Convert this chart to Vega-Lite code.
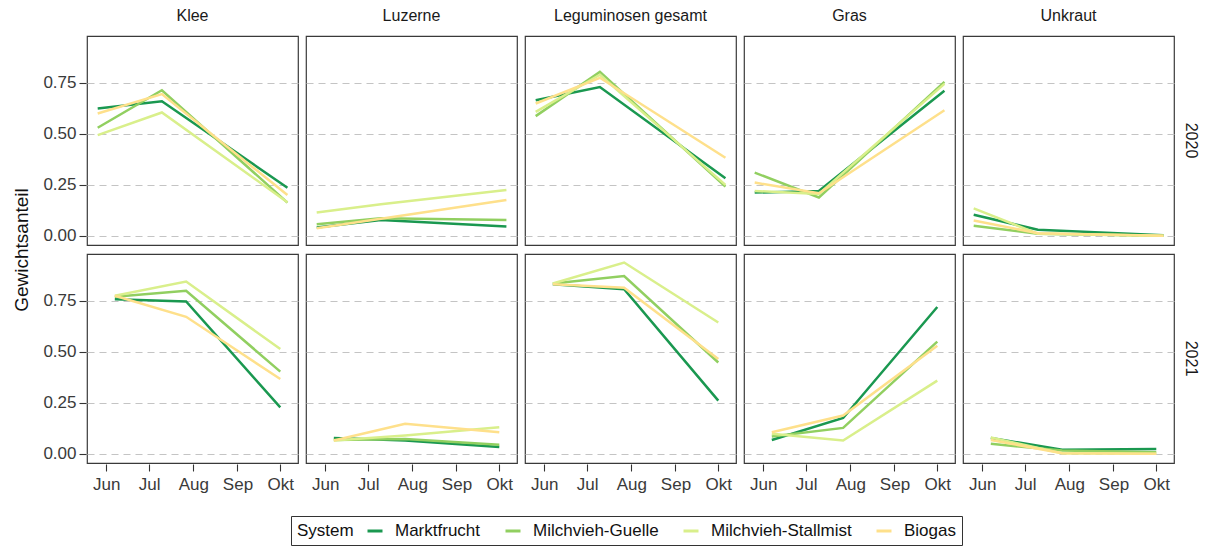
{
  "$schema": "https://vega.github.io/schema/vega-lite/v6.json",
  "padding": {"left": 12, "top": 8, "right": 4, "bottom": 2},
  "background": "white",
  "data": {"values": [
    {"Jahr": "2020", "Kategorie": "Klee", "System": "Marktfrucht", "Datum": "2020-05-26", "Anteil": 0.625},
    {"Jahr": "2020", "Kategorie": "Klee", "System": "Marktfrucht", "Datum": "2020-07-10", "Anteil": 0.66},
    {"Jahr": "2020", "Kategorie": "Klee", "System": "Marktfrucht", "Datum": "2020-10-06", "Anteil": 0.236},
    {"Jahr": "2020", "Kategorie": "Klee", "System": "Milchvieh-Guelle", "Datum": "2020-05-26", "Anteil": 0.53},
    {"Jahr": "2020", "Kategorie": "Klee", "System": "Milchvieh-Guelle", "Datum": "2020-07-10", "Anteil": 0.714},
    {"Jahr": "2020", "Kategorie": "Klee", "System": "Milchvieh-Guelle", "Datum": "2020-10-06", "Anteil": 0.163},
    {"Jahr": "2020", "Kategorie": "Klee", "System": "Milchvieh-Stallmist", "Datum": "2020-05-26", "Anteil": 0.494},
    {"Jahr": "2020", "Kategorie": "Klee", "System": "Milchvieh-Stallmist", "Datum": "2020-07-10", "Anteil": 0.605},
    {"Jahr": "2020", "Kategorie": "Klee", "System": "Milchvieh-Stallmist", "Datum": "2020-10-06", "Anteil": 0.165},
    {"Jahr": "2020", "Kategorie": "Klee", "System": "Biogas", "Datum": "2020-05-26", "Anteil": 0.60},
    {"Jahr": "2020", "Kategorie": "Klee", "System": "Biogas", "Datum": "2020-07-10", "Anteil": 0.695},
    {"Jahr": "2020", "Kategorie": "Klee", "System": "Biogas", "Datum": "2020-10-06", "Anteil": 0.20},

    {"Jahr": "2020", "Kategorie": "Luzerne", "System": "Marktfrucht", "Datum": "2020-05-26", "Anteil": 0.041},
    {"Jahr": "2020", "Kategorie": "Luzerne", "System": "Marktfrucht", "Datum": "2020-07-10", "Anteil": 0.078},
    {"Jahr": "2020", "Kategorie": "Luzerne", "System": "Marktfrucht", "Datum": "2020-10-06", "Anteil": 0.046},
    {"Jahr": "2020", "Kategorie": "Luzerne", "System": "Milchvieh-Guelle", "Datum": "2020-05-26", "Anteil": 0.057},
    {"Jahr": "2020", "Kategorie": "Luzerne", "System": "Milchvieh-Guelle", "Datum": "2020-07-10", "Anteil": 0.086},
    {"Jahr": "2020", "Kategorie": "Luzerne", "System": "Milchvieh-Guelle", "Datum": "2020-10-06", "Anteil": 0.078},
    {"Jahr": "2020", "Kategorie": "Luzerne", "System": "Milchvieh-Stallmist", "Datum": "2020-05-26", "Anteil": 0.114},
    {"Jahr": "2020", "Kategorie": "Luzerne", "System": "Milchvieh-Stallmist", "Datum": "2020-07-10", "Anteil": 0.155},
    {"Jahr": "2020", "Kategorie": "Luzerne", "System": "Milchvieh-Stallmist", "Datum": "2020-10-06", "Anteil": 0.225},
    {"Jahr": "2020", "Kategorie": "Luzerne", "System": "Biogas", "Datum": "2020-05-26", "Anteil": 0.037},
    {"Jahr": "2020", "Kategorie": "Luzerne", "System": "Biogas", "Datum": "2020-07-10", "Anteil": 0.084},
    {"Jahr": "2020", "Kategorie": "Luzerne", "System": "Biogas", "Datum": "2020-10-06", "Anteil": 0.176},

    {"Jahr": "2020", "Kategorie": "Leguminosen gesamt", "System": "Marktfrucht", "Datum": "2020-05-26", "Anteil": 0.665},
    {"Jahr": "2020", "Kategorie": "Leguminosen gesamt", "System": "Marktfrucht", "Datum": "2020-07-10", "Anteil": 0.73},
    {"Jahr": "2020", "Kategorie": "Leguminosen gesamt", "System": "Marktfrucht", "Datum": "2020-10-06", "Anteil": 0.282},
    {"Jahr": "2020", "Kategorie": "Leguminosen gesamt", "System": "Milchvieh-Guelle", "Datum": "2020-05-26", "Anteil": 0.587},
    {"Jahr": "2020", "Kategorie": "Leguminosen gesamt", "System": "Milchvieh-Guelle", "Datum": "2020-07-10", "Anteil": 0.804},
    {"Jahr": "2020", "Kategorie": "Leguminosen gesamt", "System": "Milchvieh-Guelle", "Datum": "2020-10-06", "Anteil": 0.241},
    {"Jahr": "2020", "Kategorie": "Leguminosen gesamt", "System": "Milchvieh-Stallmist", "Datum": "2020-05-26", "Anteil": 0.608},
    {"Jahr": "2020", "Kategorie": "Leguminosen gesamt", "System": "Milchvieh-Stallmist", "Datum": "2020-07-10", "Anteil": 0.79},
    {"Jahr": "2020", "Kategorie": "Leguminosen gesamt", "System": "Milchvieh-Stallmist", "Datum": "2020-10-06", "Anteil": 0.25},
    {"Jahr": "2020", "Kategorie": "Leguminosen gesamt", "System": "Biogas", "Datum": "2020-05-26", "Anteil": 0.649},
    {"Jahr": "2020", "Kategorie": "Leguminosen gesamt", "System": "Biogas", "Datum": "2020-07-10", "Anteil": 0.775},
    {"Jahr": "2020", "Kategorie": "Leguminosen gesamt", "System": "Biogas", "Datum": "2020-10-06", "Anteil": 0.383},

    {"Jahr": "2020", "Kategorie": "Gras", "System": "Marktfrucht", "Datum": "2020-05-26", "Anteil": 0.212},
    {"Jahr": "2020", "Kategorie": "Gras", "System": "Marktfrucht", "Datum": "2020-07-10", "Anteil": 0.22},
    {"Jahr": "2020", "Kategorie": "Gras", "System": "Marktfrucht", "Datum": "2020-10-06", "Anteil": 0.711},
    {"Jahr": "2020", "Kategorie": "Gras", "System": "Milchvieh-Guelle", "Datum": "2020-05-26", "Anteil": 0.31},
    {"Jahr": "2020", "Kategorie": "Gras", "System": "Milchvieh-Guelle", "Datum": "2020-07-10", "Anteil": 0.188},
    {"Jahr": "2020", "Kategorie": "Gras", "System": "Milchvieh-Guelle", "Datum": "2020-10-06", "Anteil": 0.755},
    {"Jahr": "2020", "Kategorie": "Gras", "System": "Milchvieh-Stallmist", "Datum": "2020-05-26", "Anteil": 0.22},
    {"Jahr": "2020", "Kategorie": "Gras", "System": "Milchvieh-Stallmist", "Datum": "2020-07-10", "Anteil": 0.205},
    {"Jahr": "2020", "Kategorie": "Gras", "System": "Milchvieh-Stallmist", "Datum": "2020-10-06", "Anteil": 0.745},
    {"Jahr": "2020", "Kategorie": "Gras", "System": "Biogas", "Datum": "2020-05-26", "Anteil": 0.261},
    {"Jahr": "2020", "Kategorie": "Gras", "System": "Biogas", "Datum": "2020-07-10", "Anteil": 0.209},
    {"Jahr": "2020", "Kategorie": "Gras", "System": "Biogas", "Datum": "2020-10-06", "Anteil": 0.616},

    {"Jahr": "2020", "Kategorie": "Unkraut", "System": "Marktfrucht", "Datum": "2020-05-26", "Anteil": 0.103},
    {"Jahr": "2020", "Kategorie": "Unkraut", "System": "Marktfrucht", "Datum": "2020-07-10", "Anteil": 0.03},
    {"Jahr": "2020", "Kategorie": "Unkraut", "System": "Marktfrucht", "Datum": "2020-10-06", "Anteil": 0.003},
    {"Jahr": "2020", "Kategorie": "Unkraut", "System": "Milchvieh-Guelle", "Datum": "2020-05-26", "Anteil": 0.049},
    {"Jahr": "2020", "Kategorie": "Unkraut", "System": "Milchvieh-Guelle", "Datum": "2020-07-10", "Anteil": 0.01},
    {"Jahr": "2020", "Kategorie": "Unkraut", "System": "Milchvieh-Guelle", "Datum": "2020-10-06", "Anteil": 0.0},
    {"Jahr": "2020", "Kategorie": "Unkraut", "System": "Milchvieh-Stallmist", "Datum": "2020-05-26", "Anteil": 0.135},
    {"Jahr": "2020", "Kategorie": "Unkraut", "System": "Milchvieh-Stallmist", "Datum": "2020-07-10", "Anteil": 0.01},
    {"Jahr": "2020", "Kategorie": "Unkraut", "System": "Milchvieh-Stallmist", "Datum": "2020-10-06", "Anteil": 0.0},
    {"Jahr": "2020", "Kategorie": "Unkraut", "System": "Biogas", "Datum": "2020-05-26", "Anteil": 0.075},
    {"Jahr": "2020", "Kategorie": "Unkraut", "System": "Biogas", "Datum": "2020-07-10", "Anteil": 0.013},
    {"Jahr": "2020", "Kategorie": "Unkraut", "System": "Biogas", "Datum": "2020-10-06", "Anteil": 0.0},

    {"Jahr": "2021", "Kategorie": "Klee", "System": "Marktfrucht", "Datum": "2021-06-07", "Anteil": 0.758},
    {"Jahr": "2021", "Kategorie": "Klee", "System": "Marktfrucht", "Datum": "2021-07-27", "Anteil": 0.747},
    {"Jahr": "2021", "Kategorie": "Klee", "System": "Marktfrucht", "Datum": "2021-10-01", "Anteil": 0.228},
    {"Jahr": "2021", "Kategorie": "Klee", "System": "Milchvieh-Guelle", "Datum": "2021-06-07", "Anteil": 0.77},
    {"Jahr": "2021", "Kategorie": "Klee", "System": "Milchvieh-Guelle", "Datum": "2021-07-27", "Anteil": 0.80},
    {"Jahr": "2021", "Kategorie": "Klee", "System": "Milchvieh-Guelle", "Datum": "2021-10-01", "Anteil": 0.403},
    {"Jahr": "2021", "Kategorie": "Klee", "System": "Milchvieh-Stallmist", "Datum": "2021-06-07", "Anteil": 0.775},
    {"Jahr": "2021", "Kategorie": "Klee", "System": "Milchvieh-Stallmist", "Datum": "2021-07-27", "Anteil": 0.845},
    {"Jahr": "2021", "Kategorie": "Klee", "System": "Milchvieh-Stallmist", "Datum": "2021-10-01", "Anteil": 0.514},
    {"Jahr": "2021", "Kategorie": "Klee", "System": "Biogas", "Datum": "2021-06-07", "Anteil": 0.775},
    {"Jahr": "2021", "Kategorie": "Klee", "System": "Biogas", "Datum": "2021-07-27", "Anteil": 0.672},
    {"Jahr": "2021", "Kategorie": "Klee", "System": "Biogas", "Datum": "2021-10-01", "Anteil": 0.367},

    {"Jahr": "2021", "Kategorie": "Luzerne", "System": "Marktfrucht", "Datum": "2021-06-07", "Anteil": 0.078},
    {"Jahr": "2021", "Kategorie": "Luzerne", "System": "Marktfrucht", "Datum": "2021-07-27", "Anteil": 0.065},
    {"Jahr": "2021", "Kategorie": "Luzerne", "System": "Marktfrucht", "Datum": "2021-10-01", "Anteil": 0.033},
    {"Jahr": "2021", "Kategorie": "Luzerne", "System": "Milchvieh-Guelle", "Datum": "2021-06-07", "Anteil": 0.068},
    {"Jahr": "2021", "Kategorie": "Luzerne", "System": "Milchvieh-Guelle", "Datum": "2021-07-27", "Anteil": 0.073},
    {"Jahr": "2021", "Kategorie": "Luzerne", "System": "Milchvieh-Guelle", "Datum": "2021-10-01", "Anteil": 0.044},
    {"Jahr": "2021", "Kategorie": "Luzerne", "System": "Milchvieh-Stallmist", "Datum": "2021-06-07", "Anteil": 0.065},
    {"Jahr": "2021", "Kategorie": "Luzerne", "System": "Milchvieh-Stallmist", "Datum": "2021-07-27", "Anteil": 0.09},
    {"Jahr": "2021", "Kategorie": "Luzerne", "System": "Milchvieh-Stallmist", "Datum": "2021-10-01", "Anteil": 0.13},
    {"Jahr": "2021", "Kategorie": "Luzerne", "System": "Biogas", "Datum": "2021-06-07", "Anteil": 0.065},
    {"Jahr": "2021", "Kategorie": "Luzerne", "System": "Biogas", "Datum": "2021-07-27", "Anteil": 0.147},
    {"Jahr": "2021", "Kategorie": "Luzerne", "System": "Biogas", "Datum": "2021-10-01", "Anteil": 0.106},

    {"Jahr": "2021", "Kategorie": "Leguminosen gesamt", "System": "Marktfrucht", "Datum": "2021-06-07", "Anteil": 0.832},
    {"Jahr": "2021", "Kategorie": "Leguminosen gesamt", "System": "Marktfrucht", "Datum": "2021-07-27", "Anteil": 0.807},
    {"Jahr": "2021", "Kategorie": "Leguminosen gesamt", "System": "Marktfrucht", "Datum": "2021-10-01", "Anteil": 0.261},
    {"Jahr": "2021", "Kategorie": "Leguminosen gesamt", "System": "Milchvieh-Guelle", "Datum": "2021-06-07", "Anteil": 0.835},
    {"Jahr": "2021", "Kategorie": "Leguminosen gesamt", "System": "Milchvieh-Guelle", "Datum": "2021-07-27", "Anteil": 0.872},
    {"Jahr": "2021", "Kategorie": "Leguminosen gesamt", "System": "Milchvieh-Guelle", "Datum": "2021-10-01", "Anteil": 0.448},
    {"Jahr": "2021", "Kategorie": "Leguminosen gesamt", "System": "Milchvieh-Stallmist", "Datum": "2021-06-07", "Anteil": 0.835},
    {"Jahr": "2021", "Kategorie": "Leguminosen gesamt", "System": "Milchvieh-Stallmist", "Datum": "2021-07-27", "Anteil": 0.938},
    {"Jahr": "2021", "Kategorie": "Leguminosen gesamt", "System": "Milchvieh-Stallmist", "Datum": "2021-10-01", "Anteil": 0.644},
    {"Jahr": "2021", "Kategorie": "Leguminosen gesamt", "System": "Biogas", "Datum": "2021-06-07", "Anteil": 0.832},
    {"Jahr": "2021", "Kategorie": "Leguminosen gesamt", "System": "Biogas", "Datum": "2021-07-27", "Anteil": 0.815},
    {"Jahr": "2021", "Kategorie": "Leguminosen gesamt", "System": "Biogas", "Datum": "2021-10-01", "Anteil": 0.465},

    {"Jahr": "2021", "Kategorie": "Gras", "System": "Marktfrucht", "Datum": "2021-06-07", "Anteil": 0.068},
    {"Jahr": "2021", "Kategorie": "Gras", "System": "Marktfrucht", "Datum": "2021-07-27", "Anteil": 0.176},
    {"Jahr": "2021", "Kategorie": "Gras", "System": "Marktfrucht", "Datum": "2021-10-01", "Anteil": 0.72},
    {"Jahr": "2021", "Kategorie": "Gras", "System": "Milchvieh-Guelle", "Datum": "2021-06-07", "Anteil": 0.085},
    {"Jahr": "2021", "Kategorie": "Gras", "System": "Milchvieh-Guelle", "Datum": "2021-07-27", "Anteil": 0.127},
    {"Jahr": "2021", "Kategorie": "Gras", "System": "Milchvieh-Guelle", "Datum": "2021-10-01", "Anteil": 0.55},
    {"Jahr": "2021", "Kategorie": "Gras", "System": "Milchvieh-Stallmist", "Datum": "2021-06-07", "Anteil": 0.098},
    {"Jahr": "2021", "Kategorie": "Gras", "System": "Milchvieh-Stallmist", "Datum": "2021-07-27", "Anteil": 0.065},
    {"Jahr": "2021", "Kategorie": "Gras", "System": "Milchvieh-Stallmist", "Datum": "2021-10-01", "Anteil": 0.359},
    {"Jahr": "2021", "Kategorie": "Gras", "System": "Biogas", "Datum": "2021-06-07", "Anteil": 0.106},
    {"Jahr": "2021", "Kategorie": "Gras", "System": "Biogas", "Datum": "2021-07-27", "Anteil": 0.188},
    {"Jahr": "2021", "Kategorie": "Gras", "System": "Biogas", "Datum": "2021-10-01", "Anteil": 0.53},

    {"Jahr": "2021", "Kategorie": "Unkraut", "System": "Marktfrucht", "Datum": "2021-06-07", "Anteil": 0.078},
    {"Jahr": "2021", "Kategorie": "Unkraut", "System": "Marktfrucht", "Datum": "2021-07-27", "Anteil": 0.02},
    {"Jahr": "2021", "Kategorie": "Unkraut", "System": "Marktfrucht", "Datum": "2021-10-01", "Anteil": 0.024},
    {"Jahr": "2021", "Kategorie": "Unkraut", "System": "Milchvieh-Guelle", "Datum": "2021-06-07", "Anteil": 0.049},
    {"Jahr": "2021", "Kategorie": "Unkraut", "System": "Milchvieh-Guelle", "Datum": "2021-07-27", "Anteil": 0.016},
    {"Jahr": "2021", "Kategorie": "Unkraut", "System": "Milchvieh-Guelle", "Datum": "2021-10-01", "Anteil": 0.008},
    {"Jahr": "2021", "Kategorie": "Unkraut", "System": "Milchvieh-Stallmist", "Datum": "2021-06-07", "Anteil": 0.08},
    {"Jahr": "2021", "Kategorie": "Unkraut", "System": "Milchvieh-Stallmist", "Datum": "2021-07-27", "Anteil": 0.003},
    {"Jahr": "2021", "Kategorie": "Unkraut", "System": "Milchvieh-Stallmist", "Datum": "2021-10-01", "Anteil": 0.0},
    {"Jahr": "2021", "Kategorie": "Unkraut", "System": "Biogas", "Datum": "2021-06-07", "Anteil": 0.068},
    {"Jahr": "2021", "Kategorie": "Unkraut", "System": "Biogas", "Datum": "2021-07-27", "Anteil": 0.003},
    {"Jahr": "2021", "Kategorie": "Unkraut", "System": "Biogas", "Datum": "2021-10-01", "Anteil": 0.0}
  ]},
  "facet": {
    "row": {"field": "Jahr", "type": "ordinal", "header": {"title": "Gewichtsanteil", "titleOrient": "left", "titleAngle": -90, "titleFontSize": 19, "titleFontWeight": "normal", "titleColor": "#111", "titlePadding": -19, "labelOrient": "right", "labelAngle": 90, "labelFontSize": 16, "labelPadding": 8}},
    "column": {"field": "Kategorie", "type": "nominal", "sort": ["Klee", "Luzerne", "Leguminosen gesamt", "Gras", "Unkraut"], "header": {"title": null, "labelFontSize": 16, "labelPadding": 11}}
  },
  "spacing": {"row": 7, "column": 6},
  "spec": {
    "width": 211,
    "height": 209,
    "mark": {"type": "line", "strokeWidth": 2.5},
    "encoding": {
      "x": {
        "field": "Datum", "timeUnit": "utcmonthdate", "type": "temporal",
        "scale": {"type": "utc", "nice": false, "domain": [
          {"year": 2012, "month": 5, "date": 18, "hours": 12, "utc": true},
          {"year": 2012, "month": 10, "date": 13, "hours": 10, "utc": true}
        ]},
        "axis": {
          "title": null, "grid": false,
          "values": [
            {"year": 2012, "month": 6, "date": 1, "utc": true},
            {"year": 2012, "month": 7, "date": 1, "utc": true},
            {"year": 2012, "month": 8, "date": 1, "utc": true},
            {"year": 2012, "month": 9, "date": 1, "utc": true},
            {"year": 2012, "month": 10, "date": 1, "utc": true}
          ],
          "labelPadding": 5,
          "labelExpr": "['Jan','Feb','Mär','Apr','Mai','Jun','Jul','Aug','Sep','Okt','Nov','Dez'][utcmonth(datum.value)]"
        }
      },
      "y": {
        "field": "Anteil", "type": "quantitative",
        "scale": {"domain": [-0.045, 0.98], "nice": false, "zero": false},
        "axis": {"title": null, "values": [0, 0.25, 0.5, 0.75], "format": ".2f", "grid": true}
      },
      "color": {
        "field": "System", "type": "nominal",
        "scale": {"domain": ["Marktfrucht", "Milchvieh-Guelle", "Milchvieh-Stallmist", "Biogas"], "range": ["#1a9850", "#91cf60", "#d9ef8b", "#fee08b"]},
        "legend": {"title": "System", "orient": "none", "legendX": 204, "legendY": 480}
      }
    }
  },
  "config": {
    "font": "Liberation Sans",
    "view": {"stroke": "#3a3a3a", "strokeWidth": 1.2},
    "axis": {
      "domain": false, "tickColor": "#333", "tickSize": 7, "tickWidth": 1.1,
      "labelFontSize": 17, "labelColor": "#3a3a3a", "labelPadding": 3
    },
    "axisY": {"gridColor": "#c4c4c4", "gridDash": [7, 5], "gridWidth": 1.1},
    "header": {"labelColor": "#1a1a1a", "labelFont": "Liberation Sans", "titleFont": "Liberation Sans"},
    "legend": {
      "direction": "horizontal", "titleOrient": "left",
      "strokeColor": "#333", "padding": 6,
      "labelFontSize": 17, "titleFontSize": 17, "titleFontWeight": "normal", "titleColor": "#111", "labelColor": "#111",
      "symbolType": "stroke", "symbolStrokeWidth": 3, "symbolSize": 225,
      "columnPadding": 18, "labelOffset": 11, "titlePadding": 12
    }
  }
}
